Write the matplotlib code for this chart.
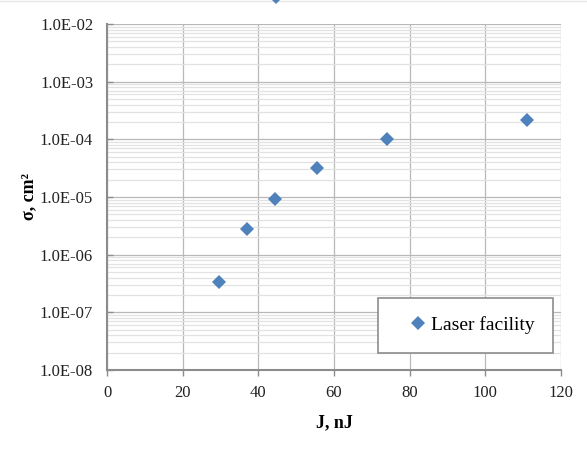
import numpy as np
import matplotlib
matplotlib.use("Agg")
import matplotlib.pyplot as plt
from matplotlib.ticker import LogLocator, FixedLocator, FuncFormatter, NullFormatter

# data
energy_nJ = [29.7, 37.0, 44.4, 55.5, 74.0, 111.0, 44.7]
sigma_cm2 = [3.4e-7, 2.8e-6, 9.3e-6, 3.2e-5, 1.0e-4, 2.2e-4, 2.9e-2]
series_name = "Laser facility"
x_ticks = [0, 20, 40, 60, 80, 100, 120]
y_ticks = [1e-8, 1e-7, 1e-6, 1e-5, 1e-4, 1e-3, 1e-2]

BLUE = "#4F81BD"
FONT = "Liberation Serif"

fig = plt.figure(figsize=(5.87, 4.55), dpi=100)
ax = fig.add_axes([0.1823, 0.1868, 0.7734, 0.7605])

ax.set_yscale("log")
ax.set_xlim(0, 120)
ax.set_ylim(1e-8, 1e-2)

ax.plot(energy_nJ, sigma_cm2, linestyle="none", marker="D", markersize=7,
        color=BLUE, markeredgewidth=0, clip_on=False, zorder=5,
        label=series_name)

ax.xaxis.set_major_locator(FixedLocator(x_ticks))
ax.yaxis.set_major_locator(FixedLocator(y_ticks))
ax.yaxis.set_minor_locator(LogLocator(base=10, subs=np.arange(2, 10), numticks=20))
ax.yaxis.set_minor_formatter(NullFormatter())
ax.yaxis.set_major_formatter(FuncFormatter(
    lambda v, p: "1.0E-%02d" % round(-np.log10(v))))

ax.grid(True, which="major", color="#b8b8b8", linewidth=0.9)
ax.grid(True, which="minor", axis="y", color="#e2e2e2", linewidth=0.9)
ax.set_axisbelow(True)

for side in ["top", "right"]:
    ax.spines[side].set_visible(False)
for side in ["left", "bottom"]:
    ax.spines[side].set_color("#8c8c8c")
    ax.spines[side].set_linewidth(1.5)

ax.tick_params(axis="both", which="major", labelsize=12, color="#8c8c8c",
               length=4, width=1)
ax.tick_params(axis="y", which="major", direction="in", pad=10)
ax.tick_params(axis="y", which="minor", length=0)
ax.tick_params(axis="x", which="major", direction="out", pad=7)
for lbl in ax.get_xticklabels() + ax.get_yticklabels():
    lbl.set_family(FONT)
    lbl.set_color("#222222")

ax.set_xlabel("J, nJ", fontsize=13, fontweight="bold", family=FONT, labelpad=9)
ax.set_ylabel("σ, cm²", fontsize=13, fontweight="bold", family=FONT, labelpad=2)

leg = ax.legend(loc="lower right", bbox_to_anchor=(0.982, 0.05), frameon=True,
                fancybox=False, prop={"family": FONT, "size": 14},
                borderpad=0.95, handletextpad=-0.45, handlelength=2.2,
                borderaxespad=0)
leg.get_frame().set_edgecolor("#8c8c8c")
leg.get_frame().set_linewidth(1.2)
leg.get_frame().set_facecolor("white")
leg.get_frame().set_alpha(1)

# faint rule along the very top edge, as in the source image
fig.add_artist(plt.Line2D([0, 1], [0.998, 0.998], transform=fig.transFigure,
                          color="#e6e6e6", linewidth=1, zorder=0))

fig.savefig("out.png", dpi=100)
